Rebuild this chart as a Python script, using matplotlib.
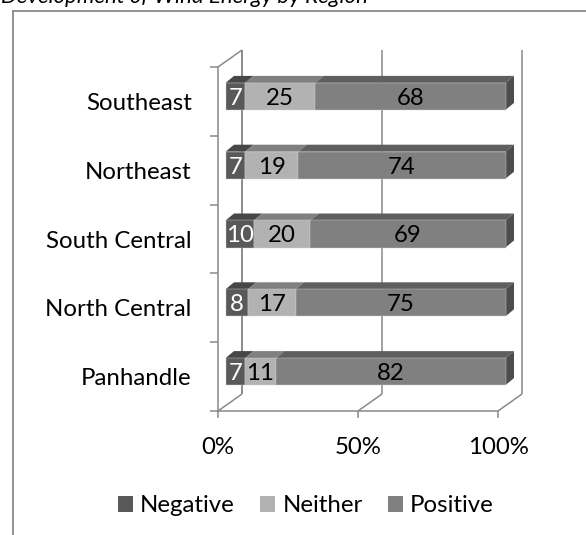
import matplotlib
matplotlib.use("Agg")
import numpy as np
import matplotlib.pyplot as plt
from matplotlib.patches import Polygon, Patch
from matplotlib.lines import Line2D

# ---------------------------------------------------------------------------
# data
# ---------------------------------------------------------------------------
regions = ['Panhandle', 'North Central', 'South Central', 'Northeast', 'Southeast']
negative = [7, 8, 10, 7, 7]
neither = [11, 17, 20, 19, 25]
positive = [82, 75, 69, 74, 68]
series_names = ['Negative', 'Neither', 'Positive']
xticks = [0, 50, 100]
xtick_labels = ['0%', '50%', '100%']
title = 'Development of Wind Energy by Region'

# styles: front face, top face, side face, label colour
front_cols = ['#595959', '#b2b2b2', '#808080']
top_cols = ['#474747', '#808080', '#5f5f5f']
side_cols = ['#474747', '#8c8c8c', '#4d4d4d']
label_cols = ['white', 'black', 'black']
grid_col = '#898989'

plt.rcParams['font.family'] = ['Lato', 'DejaVu Sans']
FS = 17.3

W, H, DPI = 586, 535, 100
fig = plt.figure(figsize=(W / DPI, H / DPI), dpi=DPI)

# front plane of the 3d box (pixels from top-left)
x0_px, x1_px = 218, 498
ytop_px, ybot_px = 67, 411
ax = fig.add_axes([x0_px / W, (H - ybot_px) / H,
                   (x1_px - x0_px) / W, (ybot_px - ytop_px) / H])
ax.set_xlim(0, 100)
ax.set_ylim(-0.5, len(regions) - 0.5)
ax.patch.set_alpha(0)

sx = (x1_px - x0_px) / 100.0               # px per percent
sy = (ybot_px - ytop_px) / len(regions)     # px per category


def off(px, py):
    return px / sx, py / sy


# ---- walls / gridlines ----------------------------------------------------
dxw, dyw = off(24, 17)
y_lo, y_hi = -0.5, len(regions) - 0.5
lkw = dict(color=grid_col, lw=1.1, clip_on=False, zorder=1,
           solid_capstyle='butt')
# left wall
ax.plot([dxw, dxw], [y_lo + dyw, y_hi + dyw], **lkw)
ax.plot([0, dxw], [y_hi, y_hi + dyw], **lkw)
# back wall gridlines + floor diagonals
for t in xticks:
    ax.plot([t + dxw, t + dxw], [y_lo + dyw, y_hi + dyw], **lkw)
    ax.plot([t, t + dxw], [y_lo, y_lo + dyw], **lkw)

for side in ['top', 'right']:
    ax.spines[side].set_visible(False)
for side in ['left', 'bottom']:
    ax.spines[side].set_color(grid_col)
    ax.spines[side].set_linewidth(1.1)

ax.set_xticks(xticks)
ax.set_xticklabels(xtick_labels, fontsize=FS)
ax.tick_params(axis='x', length=5, width=1.1, color=grid_col, pad=14)

ax.set_yticks(range(len(regions)))
ax.set_yticklabels(regions, fontsize=FS)
ax.set_yticks(np.arange(-0.5, len(regions)), minor=True)
ax.tick_params(axis='y', which='major', length=0, pad=19)
ax.tick_params(axis='y', which='minor', length=6, width=1.1, color=grid_col)

# ---- bars (100% stacked) ----------------------------------------------------
bfx, bfy = off(7.5, 5)       # bar front face offset into the box
ex, ey = off(8.5, 7)         # bar thickness
bh = 27 / sy

series = [negative, neither, positive]
totals = np.sum(np.array(series, dtype=float), axis=0)
ypos = np.arange(len(regions)) + bfy
lefts = np.zeros(len(regions))
for k, raw in enumerate(series):
    vals = np.array(raw, dtype=float) / totals * 100
    bars = ax.barh(ypos, vals, left=lefts + bfx, height=bh, color=front_cols[k],
                   edgecolor='#cfcfcf', linewidth=0.3, zorder=3)
    for b in bars:
        b.set_clip_on(False)
    for i in range(len(regions)):
        l = lefts[i] + bfx
        r = l + vals[i]
        yt = ypos[i] + bh / 2
        yb = ypos[i] - bh / 2
        ax.add_patch(Polygon([(l, yt), (r, yt), (r + ex, yt + ey), (l + ex, yt + ey)],
                             closed=True, facecolor=top_cols[k], edgecolor='none',
                             zorder=2.9, clip_on=False))
        if k == len(series) - 1:
            ax.add_patch(Polygon([(r, yb), (r, yt), (r + ex, yt + ey), (r + ex, yb + ey)],
                                 closed=True, facecolor=side_cols[k], edgecolor='none',
                                 zorder=2.9, clip_on=False))
        ax.text((l + r) / 2, ypos[i], f'{raw[i]}', ha='center',
                va='center_baseline', color=label_cols[k], fontsize=FS, zorder=4)
    lefts = lefts + vals

# ---- legend ---------------------------------------------------------------
handles = [Patch(facecolor=c, edgecolor='none') for c in front_cols]
fig.legend(handles, series_names, loc='center', bbox_to_anchor=(0.522, (H - 506) / H),
           ncol=3, frameon=False, fontsize=FS, handlelength=0.62, handleheight=0.62,
           handletextpad=0.3, columnspacing=1.05)

# ---- chart frame and (cropped) title -------------------------------------
fig.add_artist(Line2D([12.7 / W, 1.0], [1 - 10.7 / H, 1 - 10.7 / H],
                      color=grid_col, lw=1.3, transform=fig.transFigure))
fig.add_artist(Line2D([12.7 / W, 12.7 / W], [1 - 10.7 / H, 0.0],
                      color=grid_col, lw=1.3, transform=fig.transFigure))
fig.text(1 / W, 1 - 3 / H, title, ha='left', va='baseline', style='italic',
         fontsize=16)

fig.savefig('out.png', dpi=DPI)
